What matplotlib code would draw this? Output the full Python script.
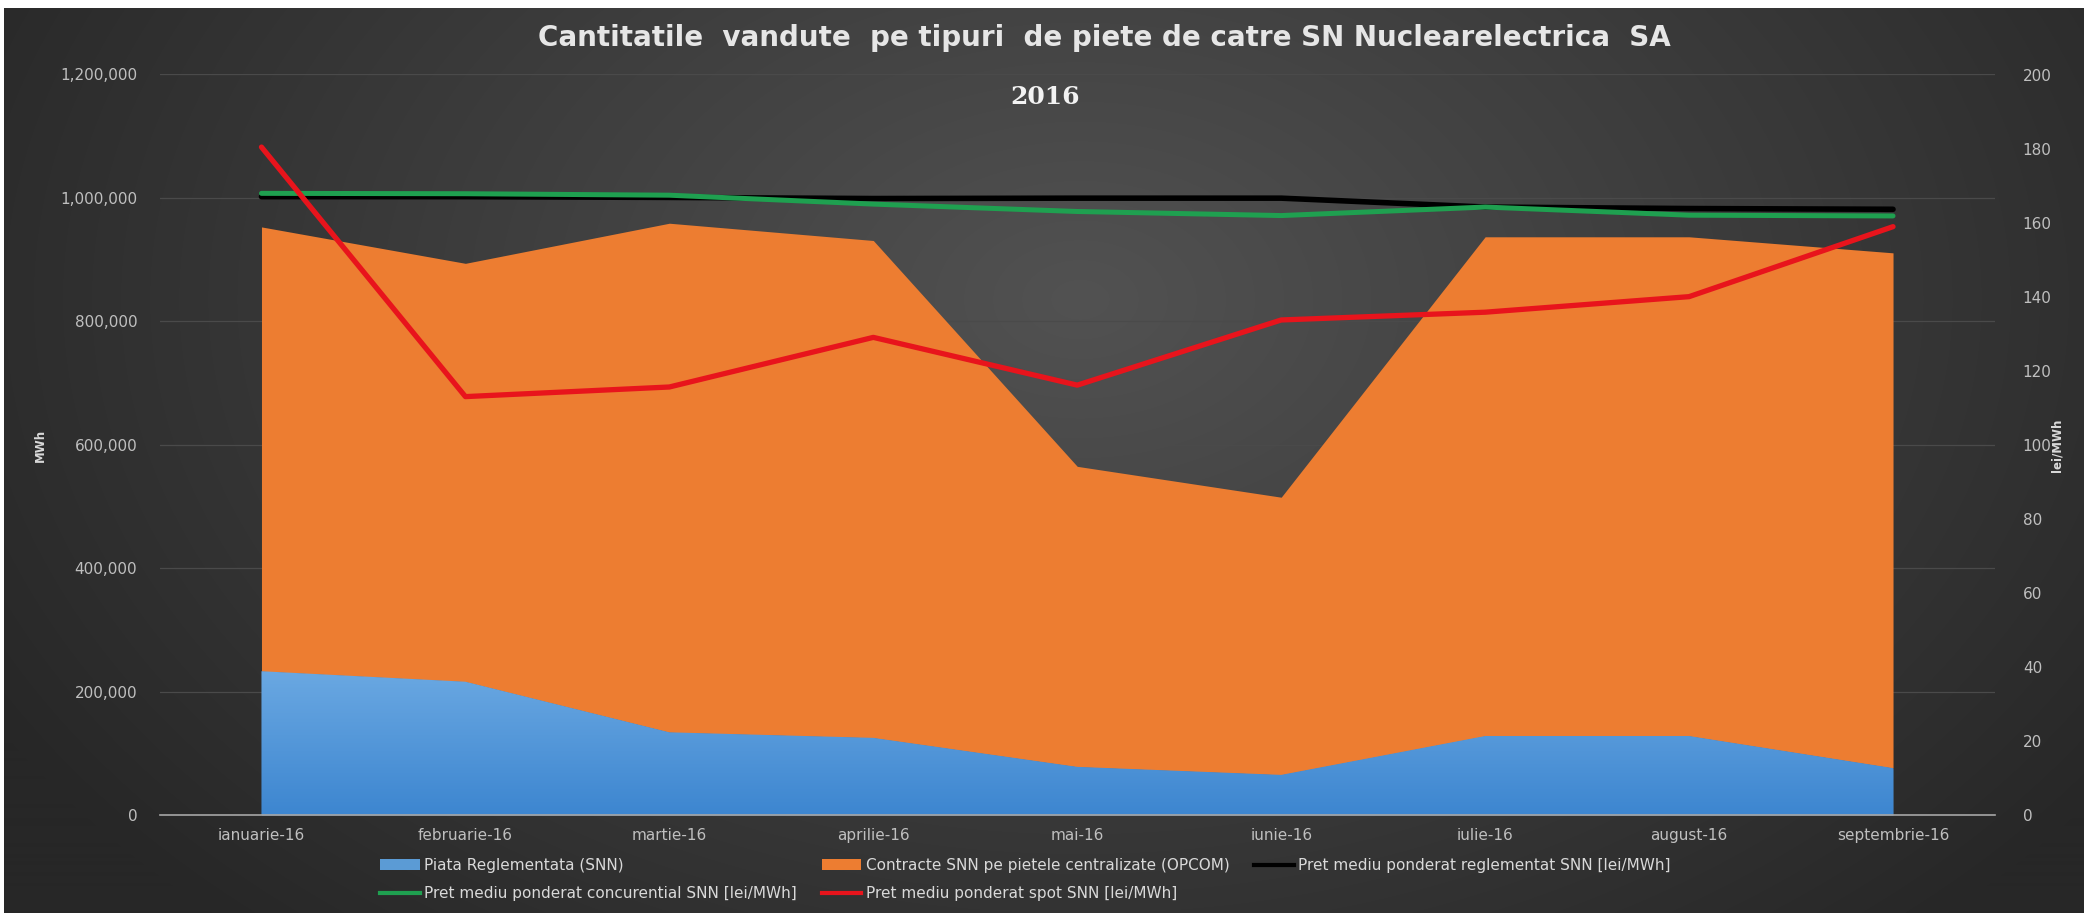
import numpy as np
import matplotlib.pyplot as plt
from matplotlib import colors
from matplotlib.lines import Line2D
from matplotlib.patches import Patch
from matplotlib.ticker import FuncFormatter, MultipleLocator

# data
luni = ['ianuarie-16', 'februarie-16', 'martie-16', 'aprilie-16', 'mai-16',
        'iunie-16', 'iulie-16', 'august-16', 'septembrie-16']
piata_reglementata = [233000, 216000, 134000, 125000, 78000, 65000, 128000, 128000, 76000]
contracte_opcom = [720000, 678000, 825000, 806000, 487000, 450000, 809000, 809000, 835000]
pret_reglementat = [167.0, 167.0, 166.8, 166.5, 166.6, 166.6, 164.2, 163.8, 163.6]
pret_concurential = [167.9, 167.8, 167.4, 165.0, 163.0, 161.9, 164.2, 162.0, 161.8]
pret_spot = [180.4, 113.0, 115.6, 129.0, 116.1, 133.7, 135.8, 140.0, 158.9]

W, H = 2084, 913
fig = plt.figure(figsize=(W / 100, H / 100), dpi=100)
fig.patch.set_facecolor('white')

# radial dark background like the excel theme
bg = fig.add_axes([0, 0, 1, 1], zorder=-10)
yy, xx = np.mgrid[0:H, 0:W]
r = np.sqrt(((xx - 1080) / 1250.0) ** 2 + ((yy - 300) / 850.0) ** 2)
t = np.clip(1 - r, 0, 1)
c_edge = np.array([0x27, 0x27, 0x27]) / 255.0
c_mid = np.array([0x52, 0x52, 0x52]) / 255.0
img = c_edge + (c_mid - c_edge) * t[..., None]
img[:9, :, :] = 1.0   # white strip on top of the screenshot
img[:, :4, :] = 1.0
bg.imshow(img, aspect='auto', extent=[0, 1, 0, 1], origin='upper')
bg.axis('off')

ax = fig.add_axes([159.5 / W, 1 - 815 / H, (1995 - 159.5) / W, (815 - 74.5) / H])
ax.set_facecolor('none')
x = np.arange(len(luni))

total = np.array(piata_reglementata) + np.array(contracte_opcom)
blue = ax.fill_between(x, 0, piata_reglementata, color='#4a90d6', lw=0, zorder=2)
ax.fill_between(x, piata_reglementata, total, color='#ed7d31', lw=0, zorder=2)

# vertical gradient on the blue area
grad = np.linspace(0, 1, 256)[:, None]
c_top = np.array(colors.to_rgb('#6aa8e2'))
c_bot = np.array(colors.to_rgb('#3d86d0'))
gimg = c_top + (c_bot - c_top) * grad[..., None]
gimg = np.repeat(gimg, 2, axis=1)
im = ax.imshow(gimg, aspect='auto', extent=[0, 8, 0, max(piata_reglementata)],
               origin='upper', zorder=2.1)
im.set_clip_path(blue.get_paths()[0], transform=ax.transData)

ax.set_xlim(-0.5, 8.5)
ax.set_ylim(0, 1200000)
ax.yaxis.set_major_locator(MultipleLocator(200000))
ax.yaxis.set_major_formatter(FuncFormatter(lambda v, p: f'{int(v):,}'))
ax.set_xticks(x)
ax.set_xticklabels(luni)
ax.grid(axis='y', color='#4a4a4a', lw=0.9, zorder=0)
ax.set_axisbelow(True)
for s in ['top', 'left', 'right']:
    ax.spines[s].set_visible(False)
ax.spines['bottom'].set_color('#a6a6a6')
ax.spines['bottom'].set_linewidth(1.2)
ax.tick_params(axis='both', length=0, colors='#bfbfbf', labelsize=11)
ax.tick_params(axis='y', pad=16)
ax.tick_params(axis='x', pad=9)

ax2 = ax.twinx()
ax2.set_ylim(0, 200)
ax2.yaxis.set_major_locator(MultipleLocator(20))
ax2.plot(x, pret_reglementat, color='#000000', lw=4, solid_capstyle='round', zorder=3)
ax2.plot(x, pret_concurential, color='#1fa050', lw=3.6, solid_capstyle='round', zorder=4)
ax2.plot(x, pret_spot, color='#e8141c', lw=3.8, solid_capstyle='round', zorder=5)
for s in ['top', 'left', 'right', 'bottom']:
    ax2.spines[s].set_visible(False)
ax2.tick_params(axis='y', length=0, colors='#bfbfbf', labelsize=11, pad=20)

fig.text(40 / W, 1 - 445 / H, 'MWh', rotation=90, ha='center', va='center',
         color='#d9d9d9', fontsize=8.5, fontweight='bold')
fig.text(2057 / W, 1 - 445 / H, 'lei/MWh', rotation=90, ha='center', va='center',
         color='#d9d9d9', fontsize=8.5, fontweight='bold')

fig.text(1104 / W, 1 - 38 / H,
         'Cantitatile  vandute  pe tipuri  de piete de catre SN Nuclearelectrica  SA',
         ha='center', va='center', color='#e6e6e6', fontsize=20, fontweight='bold')
fig.text(1045 / W, 1 - 97 / H, '2016', ha='center', va='center', color='#f2f2f2',
         fontsize=18, fontweight='bold', family='DejaVu Serif')

h_blue = Patch(facecolor='#5b9bd5', label='Piata Reglementata (SNN)')
h_orange = Patch(facecolor='#ed7d31', label='Contracte SNN pe pietele centralizate (OPCOM)')
h_black = Line2D([], [], color='#000000', lw=3, label='Pret mediu ponderat reglementat SNN [lei/MWh]')
h_green = Line2D([], [], color='#1fa050', lw=3, label='Pret mediu ponderat concurential SNN [lei/MWh]')
h_red = Line2D([], [], color='#e8141c', lw=3, label='Pret mediu ponderat spot SNN [lei/MWh]')
leg = fig.legend(handles=[h_blue, h_green, h_orange, h_red, h_black], ncol=3,
                 loc='upper left', bbox_to_anchor=(380 / W, 1 - 858 / H),
                 frameon=False, fontsize=11, labelcolor='#d9d9d9',
                 handlelength=2.6, handleheight=0.7, handletextpad=0.3,
                 columnspacing=1.6, labelspacing=0.85, borderpad=0, borderaxespad=0)

fig.savefig('out.png', dpi=100, facecolor=fig.get_facecolor())
